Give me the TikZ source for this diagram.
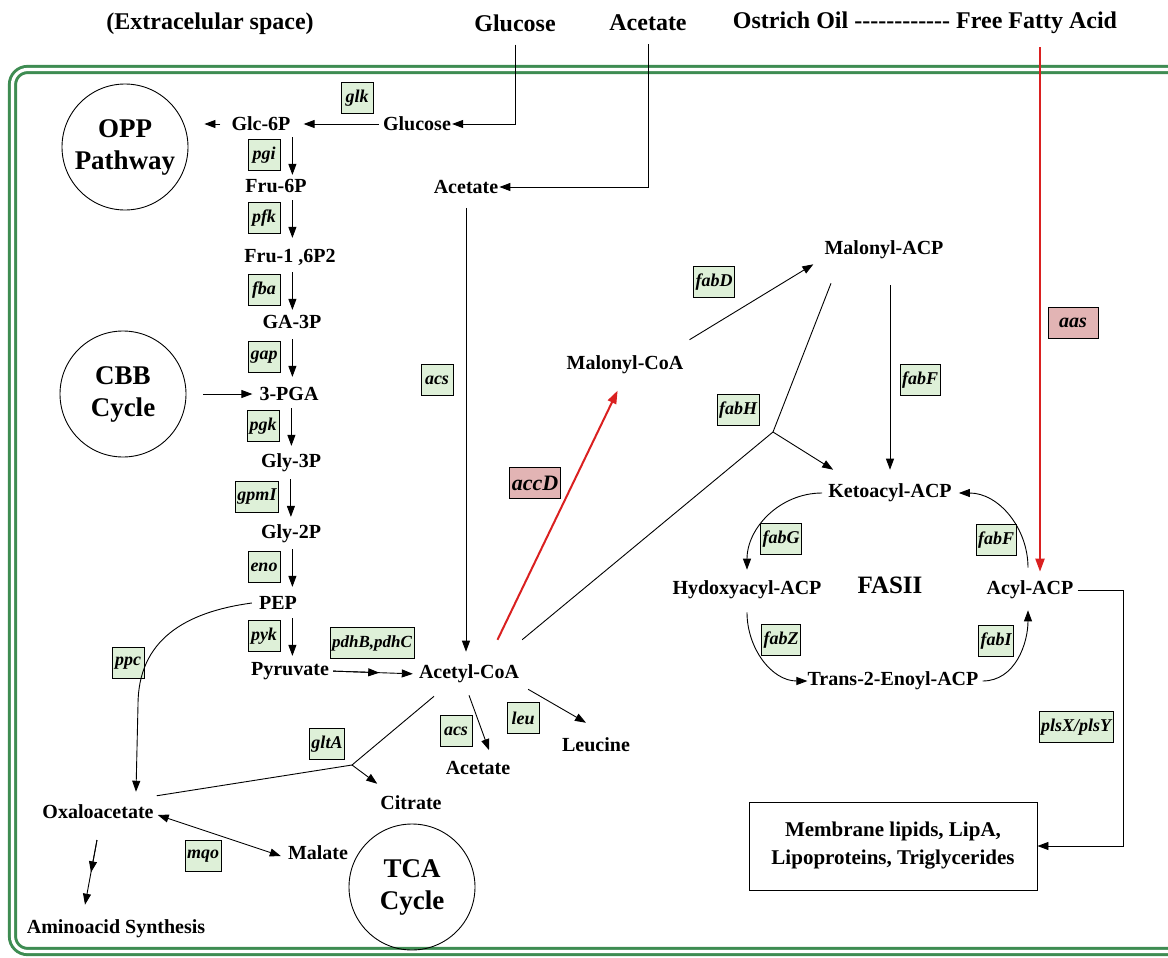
\documentclass[tikz,border=0pt]{standalone}
\usepackage{fontspec}
\setmainfont{Liberation Serif}
\usetikzlibrary{arrows.meta,calc}
\definecolor{memb}{RGB}{62,140,82}
\definecolor{genefill}{RGB}{222,240,216}
\definecolor{redfill}{RGB}{226,180,180}
\definecolor{redline}{RGB}{218,32,32}
\begin{document}
\begin{tikzpicture}[x=1pt,y=-1pt,
 arr/.style={-{Triangle[length=11pt,width=8pt]}, line width=0.9pt},
 dbl/.style={{Triangle[length=11pt,width=8pt]}-{Triangle[length=11pt,width=8pt]}, line width=0.9pt},
 ln/.style={line width=0.9pt},
 redarr/.style={draw=redline, line width=2pt, -{Triangle[length=13pt,width=9pt]}},
 met/.style={font=\fontsize{20}{22}\selectfont\bfseries, inner sep=1pt},
 topl/.style={font=\fontsize{24}{26}\selectfont\bfseries, inner sep=1pt},
 gene/.style={draw, fill=genefill, font=\fontsize{18}{20}\selectfont\bfseries\itshape, inner sep=2pt, minimum height=31pt, minimum width=32pt, line width=0.8pt},
 rgene/.style={gene, fill=redfill, font=\fontsize{22}{24}\selectfont\bfseries\itshape, minimum width=50pt, minimum height=31pt},
 circ/.style={draw, circle, minimum size=126pt, line width=0.9pt, align=center, font=\fontsize{27}{32}\selectfont\bfseries},
 fas/.style={font=\fontsize{25}{27}\selectfont\bfseries, inner sep=1pt},
 boxl/.style={draw, line width=0.9pt, align=center, font=\fontsize{21}{28}\selectfont\bfseries, minimum width=288pt, minimum height=88pt},
]
\useasboundingbox (0,0) rectangle (1168,958);
% membrane
\draw[draw=memb, line width=3pt, double=white, double distance=3.2pt, rounded corners=15pt]
  (1200,69.5) -- (12.5,69.5) -- (12.5,951.5) -- (1200,951.5);

% top labels
\node[topl] (extra) at (210,24) {(Extracelular space)};
\node[topl] (gluO) at (515,23) {Glucose};
\node[topl] (aceO) at (648,23) {Acetate};
\node[topl] (ffa) at (925,23) {Ostrich Oil -{}-{}-{}-{}-{}-{}-{}-{}-{}-{}-{}- Free Fatty Acid};
\coordinate (ffacol) at (1040,0);

% circles
\node[circ] (opp) at (125,147) {OPP\\Pathway};
\node[circ] (cbb) at (123,394) {CBB\\Cycle};
\node[circ] (tca) at (412,887) {TCA\\Cycle};

% glycolysis
\node[met] (glc6p) at (261,124) {Glc-6P};
\node[gene] (glk) at (357,98) {glk};
\node[met] (glu) at (417,124) {Glucose};
\node[gene] (pgi) at (264,155) {pgi};
\node[met] (fru6p) at (276,186) {Fru-6P};
\node[gene] (pfk) at (264,218) {pfk};
\node[met] (fbp) at (290,257) {Fru-1 ,6P2};
\node[gene] (fba) at (264,290) {fba};
\node[met] (ga3p) at (292,322) {GA-3P};
\node[gene] (gap) at (264,357) {gap};
\node[met] (pga) at (289,394) {3-PGA};
\node[gene] (pgk) at (263,426) {pgk};
\node[met] (gly3p) at (291,463) {Gly-3P};
\node[gene] (gpmi) at (257,497) {gpmI};
\node[met] (gly2p) at (291,534) {Gly-2P};
\node[gene] (eno) at (264,567) {eno};
\node[met] (pep) at (278,603) {PEP};
\node[gene] (pyk) at (264,636) {pyk};
\node[met] (pyr) at (290,671) {Pyruvate};
\node[gene, font=\fontsize{17}{19}\selectfont\bfseries\itshape] (pdh) at (372,643) {pdhB,pdhC};
\node[met] (acoa) at (469,674) {Acetyl-CoA};

\foreach \g in {pgi,pfk,fba,gap,pgk,gpmi,eno,pyk}
  \draw[arr] ([xshift=12pt,yshift=2pt]\g.north east) -- ([xshift=12pt,yshift=-4pt]\g.south east);

\draw[arr, shorten <=3pt] (glu.west) -- ([xshift=12pt]glc6p.east);
\draw[arr, shorten <=10pt, shorten >=16pt] (glc6p.west) -- (glc6p.west -| opp.east);
\draw[arr, shorten <=17pt, shorten >=6pt] (cbb.east) -- (pga.west);
\draw[arr, shorten <=12pt] (gluO.south) |- (glu.east);

% acetate
\node[met] (ace) at (466,187) {Acetate};
\node[gene] (acs1) at (437,380) {acs};
\draw[arr, shorten <=12pt] (aceO.south) |- (ace.east);
\draw[arr, shorten <=13pt, shorten >=12pt] (ace.south) -- (ace.south |- acoa.north);

% pyruvate -> acetyl-CoA
\draw[arr, shorten <=3pt, shorten >=5pt] (pyr.east) -- (acoa.west);
\draw[arr, shorten <=3pt] (pyr.east) -- ($(pyr.east)!0.56!(acoa.west)$);

% malonyl
\node[met] (mcoa) at (625,365) {Malonyl-CoA};
\node[rgene] (accd) at (535,483) {accD};
\draw[redarr, shorten <=38pt, shorten >=17pt] ([xshift=12pt]acoa.center) -- (mcoa.south);
\node[met] (macp) at (884,250) {Malonyl-ACP};
\node[gene] (fabd) at (714,282) {fabD};
\draw[arr] ([xshift=5pt,yshift=15pt]mcoa.north east) -- ([xshift=-10pt,yshift=-4pt]macp.south west);

% fabH
\coordinate (jh) at (773,432);
\node[gene] (fabh) at (738,410) {fabH};
\draw[ln] ([xshift=2pt,yshift=24pt]acoa.north east) -- (jh);
\draw[ln] ([xshift=-53pt,yshift=-23pt]macp.south) -- (jh);
\node[met] (kacp) at (890,493) {Ketoacyl-ACP};
\draw[arr] (jh) -- ([xshift=6pt,yshift=13pt]kacp.north west);
\node[gene] (fabf1) at (920,380) {fabF};
\draw[arr, shorten <=25pt, shorten >=13pt] (macp.south -| kacp.north) -- (kacp.north);

% FASII cycle
\node[met] (hacp) at (747,590) {Hydoxyacyl-ACP};
\node[met] (acyl) at (1030,590) {Acyl-ACP};
\node[met] (tacp) at (893,681) {Trans-2-Enoyl-ACP};
\node[fas] (fasii) at (890,585) {FASII};
\node[gene] (fabg) at (781,539) {fabG};
\node[gene] (fabz) at (781,640) {fabZ};
\node[gene] (fabf2) at (996,540) {fabF};
\node[gene] (fabi) at (996,641) {fabI};
\draw[arr] ([xshift=-5pt]kacp.west) to[out=180,in=90] ([yshift=10pt]hacp.north);
\draw[arr] ([yshift=-12pt]hacp.south) to[out=-90,in=180] ([xshift=1pt]tacp.west);
\draw[arr] ([xshift=3pt]tacp.east) to[out=0,in=-90] ([xshift=-2pt,yshift=-10pt]acyl.south);
\draw[arr] ([xshift=-2pt,yshift=12pt]acyl.north) to[out=90,in=0] ([xshift=6pt]kacp.east);

% aas
\node[rgene, font=\fontsize{20}{22}\selectfont\bfseries\itshape] (aas) at (1073,323) {aas};
\draw[redarr, shorten <=12pt, shorten >=8pt] (ffa.south -| ffacol) -- (acyl.north -| ffacol);

% membrane lipids
\node[gene] (plsx) at (1076,727) {plsX/plsY};
\node[boxl] (mbox) at (893,846) {Membrane lipids, LipA,\\Lipoproteins, Triglycerides};
\coordinate (rc) at (1123,0);
\draw[arr, shorten <=3pt] (acyl.east) -- (acyl.east -| rc) |- (mbox.east);

% lower left
\node[gene] (ppc) at (128,663) {ppc};
\node[met] (oaa) at (98,812) {Oxaloacetate};
\draw[arr] ([xshift=-6pt]pep.west) .. controls (185,612) and (138,640) .. (138,705) -- ([xshift=38pt,yshift=12pt]oaa.north);
\coordinate (jg) at (352,765);
\node[gene] (glta) at (327,744) {gltA};
\node[met] (cit) at (411,803) {Citrate};
\draw[ln] ([xshift=-35pt,yshift=-12pt]acoa.south) -- (jg);
\draw[ln] ([xshift=2pt,yshift=8pt]oaa.north east) -- (jg);
\draw[arr] (jg) -- ([xshift=-2pt,yshift=11pt]cit.north west);

\node[gene] (acs2) at (456,731) {acs};
\node[met] (ace2) at (478,768) {Acetate};
\draw[arr] ([yshift=-11pt]acoa.south) -- ([xshift=11pt,yshift=10pt]ace2.north);
\node[gene] (leu) at (523,718) {leu};
\node[met] (leuc) at (596,745) {Leucine};
\draw[arr] ([xshift=8pt,yshift=-5pt]acoa.south east) -- ([xshift=-10pt,yshift=14pt]leuc.north);

\node[gene] (mqo) at (203,856) {mqo};
\node[met] (mal) at (318,853) {Malate};
\draw[dbl] ([xshift=3pt,yshift=-3pt]oaa.east) -- ([xshift=-6pt,yshift=-3pt]mal.west);

\node[met] (amino) at (116,929) {Aminoacid Synthesis};
\coordinate (am1) at (97,840);
\draw[arr] (am1) -- ([xshift=-31pt,yshift=14pt]amino.north);
\draw[arr] (am1) -- ($(am1)!0.5!([xshift=-31pt,yshift=14pt]amino.north)$);
\end{tikzpicture}
\end{document}
